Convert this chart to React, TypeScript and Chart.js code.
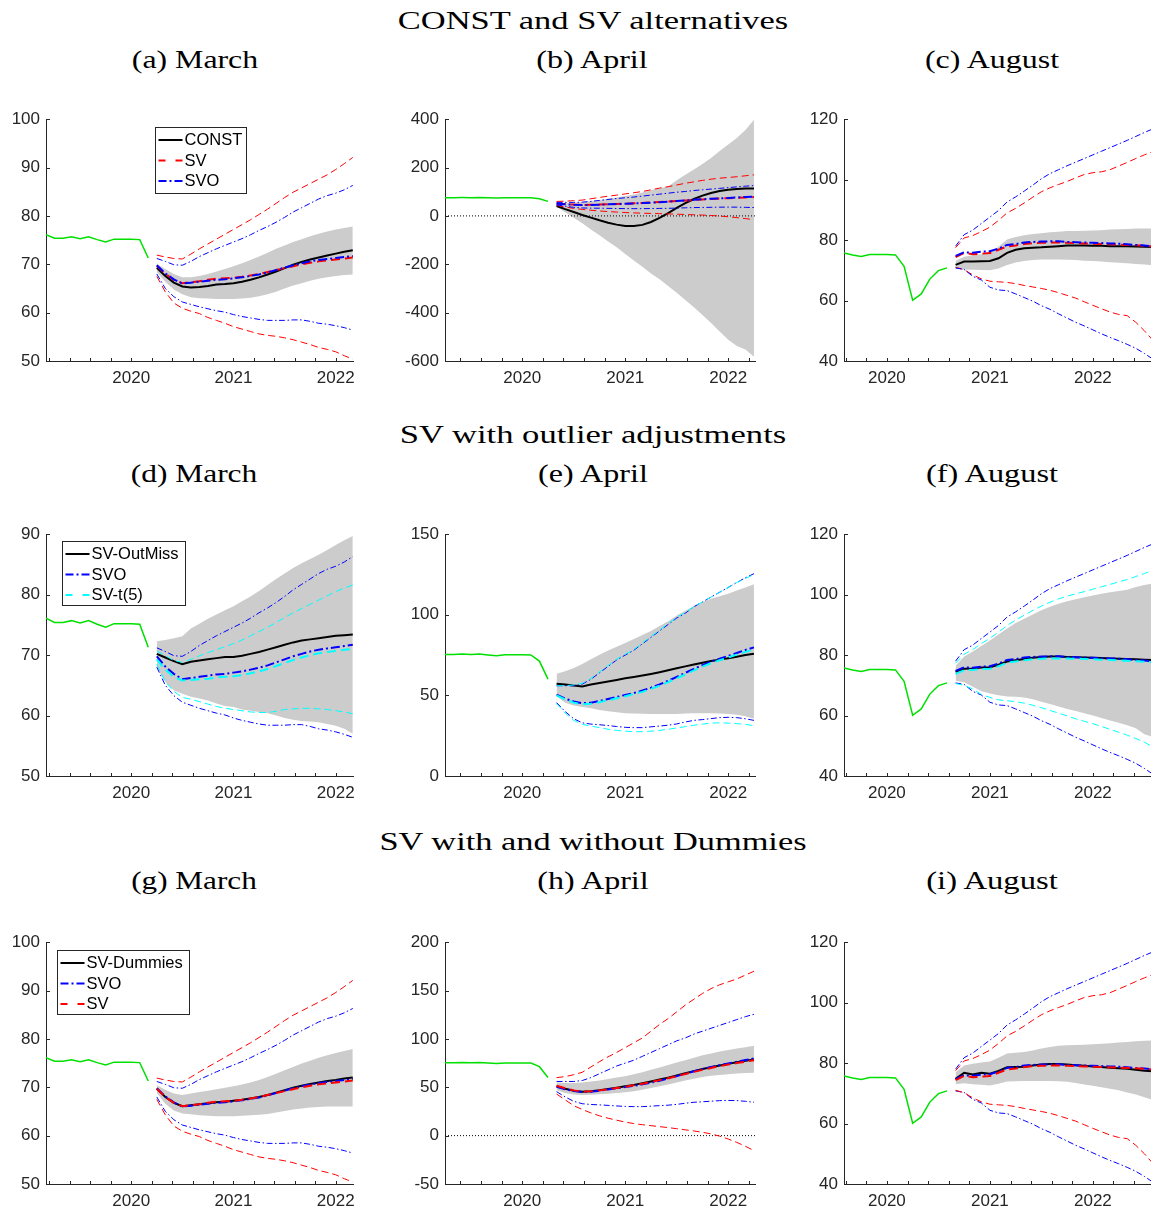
import React, { useEffect, useRef } from "react";
import { Chart, registerables } from "chart.js";

Chart.register(...registerables);

// ---------------- DATA ----------------
// Observed history, monthly from March 2019 to August 2020
const HIST_START_YEAR = 2019;
const HIST_START_MONTH = 3;
const HIST = [76.1, 75.4, 75.4, 75.7, 75.3, 75.7, 75.1, 74.6, 75.2, 75.2, 75.2, 75.1, 71.3, 60.1, 62.2, 67.1, 69.9, 70.8];
// forecast origins (index into HIST)
const ORIGIN_MAR = 12;
const ORIGIN_APR = 13;
const ORIGIN_AUG = 17;
const X_TICKS = [2020, 2021, 2022];

const SECTION_TITLES = ["CONST and SV alternatives", "SV with outlier adjustments", "SV with and without Dummies"];
const PANEL_TITLES = ["(a) March", "(b) April", "(c) August", "(d) March", "(e) April", "(f) August", "(g) March", "(h) April", "(i) August"];

// ---- CONST ----
const CONST_MAR_MED = [69.3, 67.6, 66.2, 65.4, 65.2, 65.3, 65.5, 65.8, 65.9, 66.1, 66.4, 66.8, 67.3, 67.9, 68.5, 69.2, 69.9, 70.5, 71.0, 71.4, 71.8, 72.2, 72.6, 72.9];
const CONST_MAR_LO = [68.4, 66.4, 64.8, 63.8, 63.2, 63.0, 62.9, 62.8, 62.8, 62.8, 62.9, 63.1, 63.4, 63.8, 64.3, 65.0, 65.6, 66.1, 66.6, 67.0, 67.3, 67.6, 67.8, 67.9];
const CONST_MAR_HI = [70.1, 69.0, 68.0, 67.3, 67.3, 67.6, 68.0, 68.5, 69.0, 69.6, 70.2, 70.9, 71.6, 72.4, 73.2, 73.9, 74.6, 75.2, 75.8, 76.3, 76.8, 77.2, 77.5, 77.8];
const CONST_APR_MED = [41, 28, 16, 4, -7, -18, -28, -36, -42, -42, -37, -25, -8, 12, 33, 53, 70, 84, 95, 103, 108, 111, 113, 113];
const CONST_APR_LO = [38, 15, -8, -30, -56, -80, -106, -130, -158, -184, -210, -238, -262, -290, -318, -348, -378, -410, -443, -478, -512, -538, -552, -582];
const CONST_APR_HI = [50, 52, 55, 58, 62, 66, 71, 76, 82, 89, 97, 106, 114, 122, 148, 170, 192, 215, 240, 268, 295, 322, 355, 398];
const CONST_AUG_MED = [71.8, 72.9, 72.9, 73.0, 73.1, 74.0, 75.8, 76.8, 77.3, 77.5, 77.6, 77.8, 78.0, 78.2, 78.2, 78.2, 78.1, 78.1, 78.0, 78.0, 78.0, 77.9, 77.8, 77.7];
const CONST_AUG_LO = [70.5, 70.3, 70.2, 70.1, 70.0, 70.6, 71.8, 72.6, 73.1, 73.4, 73.6, 73.6, 73.6, 73.5, 73.4, 73.2, 73.1, 72.9, 72.7, 72.5, 72.3, 72.1, 71.9, 71.7];
const CONST_AUG_HI = [73.2, 74.5, 75.0, 75.3, 75.8, 77.8, 80.2, 81.0, 81.6, 82.0, 82.3, 82.6, 82.8, 83.0, 83.0, 83.1, 83.2, 83.3, 83.5, 83.6, 83.7, 83.8, 83.8, 83.8];

// ---- SV ----
const SV_MAR_MED = [69.7, 68.0, 66.8, 66.1, 66.3, 66.5, 66.8, 67.0, 67.1, 67.2, 67.4, 67.7, 68.0, 68.4, 68.8, 69.2, 69.6, 70.0, 70.3, 70.6, 70.8, 71.0, 71.2, 71.4];
const SV_MAR_LO = [67.5, 64.3, 62.0, 60.9, 60.3, 59.8, 59.0, 58.4, 57.8, 57.1, 56.6, 56.1, 55.6, 55.3, 55.1, 54.8, 54.4, 53.9, 53.4, 52.8, 52.4, 51.9, 51.1, 50.4];
const SV_MAR_HI = [71.9, 71.5, 71.2, 71.1, 72.1, 73.2, 74.2, 75.2, 76.2, 77.2, 78.2, 79.2, 80.3, 81.4, 82.6, 83.8, 84.9, 85.8, 86.7, 87.6, 88.5, 89.6, 90.8, 92.1];
const SV_APR_MED = [51.5, 49.0, 46.8, 45.5, 45.8, 46.8, 48.0, 49.2, 50.6, 52.0, 53.6, 55.4, 57.4, 59.4, 61.5, 63.7, 65.9, 68.0, 70.0, 71.8, 73.5, 75.0, 76.5, 78.0];
const SV_APR_LO = [43, 37, 31, 27, 23.5, 20.5, 18, 16, 14, 12.5, 11.3, 10.3, 9.3, 8.3, 7.2, 6, 4.8, 3.5, 1.8, -0.5, -3.5, -7, -11, -15.5];
const SV_APR_HI = [60, 61, 63, 65.5, 71, 76.5, 81.5, 86, 91, 96, 101, 108, 115, 121, 128, 135, 141, 147, 152, 156, 159, 162, 166, 170];
const SV_AUG_MED = [74.4, 75.8, 75.3, 75.5, 75.7, 76.8, 77.9, 78.2, 78.7, 79.0, 79.1, 79.2, 79.2, 79.1, 79.0, 78.9, 78.8, 78.7, 78.6, 78.5, 78.4, 78.3, 78.1, 77.9];
const SV_AUG_LO = [71.0, 70.2, 68.5, 67.2, 66.4, 66.2, 66.0, 65.6, 65.0, 64.5, 64.0, 63.4, 62.6, 61.7, 60.8, 59.6, 58.4, 57.3, 56.2, 55.4, 55.0, 52.8, 50.0, 46.8];
const SV_AUG_HI = [77.5, 80.7, 81.5, 82.8, 84.3, 86.5, 89.0, 90.5, 92.3, 94.2, 96.0, 97.3, 98.4, 99.4, 100.6, 101.7, 102.3, 102.6, 103.3, 104.5, 105.7, 107.0, 108.2, 109.3];

// ---- SVO ----
const SVO_MAR_MED = [69.8, 68.1, 66.9, 66.0, 66.2, 66.4, 66.6, 66.8, 66.9, 67.1, 67.3, 67.6, 67.9, 68.3, 68.8, 69.3, 69.8, 70.2, 70.6, 70.9, 71.1, 71.3, 71.5, 71.7];
const SVO_MAR_LO = [68.0, 65.0, 63.3, 62.2, 61.7, 61.2, 60.8, 60.4, 60.1, 59.6, 59.2, 58.9, 58.6, 58.4, 58.4, 58.4, 58.5, 58.5, 58.2, 57.8, 57.6, 57.3, 56.9, 56.4];
const SVO_MAR_HI = [71.2, 70.6, 69.9, 69.8, 70.6, 71.6, 72.4, 73.2, 73.9, 74.6, 75.3, 76.1, 77.0, 77.8, 78.7, 79.7, 80.8, 81.7, 82.6, 83.5, 84.2, 84.7, 85.4, 86.3];
const SVO_APR_MED = [50.5, 48.0, 46.2, 45.2, 45.5, 46.5, 47.8, 49.0, 50.3, 51.5, 53.0, 54.8, 56.8, 59.0, 61.5, 64.0, 66.5, 68.8, 71.0, 72.8, 74.5, 76.3, 78.2, 79.8];
const SVO_APR_LO = [45.5, 40.0, 35.5, 33.0, 32.2, 31.8, 31.3, 30.7, 30.2, 30.0, 30.0, 30.5, 31.0, 31.5, 32.3, 33.5, 34.5, 35.0, 35.6, 36.2, 36.4, 36.2, 35.5, 34.5];
const SVO_APR_HI = [56, 56, 56, 57, 60, 64, 68, 72, 75, 78, 82, 86, 90, 94, 98, 101, 105, 108, 111, 114, 117, 120, 123, 125.5];
const SVO_AUG_MED = [74.8, 76.0, 75.8, 76.2, 76.3, 77.2, 78.4, 78.7, 79.2, 79.4, 79.5, 79.6, 79.6, 79.4, 79.3, 79.2, 79.1, 79.0, 78.9, 78.8, 78.6, 78.4, 78.2, 78.0];
const SVO_AUG_LO = [70.8, 70.3, 68.0, 66.8, 64.4, 63.5, 63.3, 62.2, 61.0, 59.8, 58.3, 57.1, 55.6, 54.2, 52.8, 51.6, 50.3, 49.0, 47.8, 46.7, 45.5, 44.2, 42.5, 40.6];
const SVO_AUG_HI = [78.0, 81.8, 83.3, 85.5, 87.6, 89.8, 92.6, 94.3, 96.2, 98.2, 100.3, 102.0, 103.3, 104.6, 105.8, 107.0, 108.2, 109.4, 110.6, 111.8, 113.0, 114.3, 115.6, 116.8];

// ---- SV-OutMiss ----
const OUTMISS_MAR_MED = [70.2, 69.6, 69.0, 68.5, 68.9, 69.1, 69.3, 69.5, 69.7, 69.7, 69.9, 70.2, 70.5, 70.9, 71.3, 71.7, 72.1, 72.4, 72.6, 72.8, 73.0, 73.2, 73.3, 73.4];
const OUTMISS_MAR_LO = [68.0, 65.6, 64.2, 63.6, 63.1, 62.8, 62.5, 62.0, 61.6, 61.4, 61.0, 60.8, 60.6, 60.4, 60.0, 59.6, 59.3, 59.1, 59.0, 58.9, 58.6, 58.3, 57.8, 57.0];
const OUTMISS_MAR_HI = [72.3, 72.5, 72.8, 73.1, 74.4, 75.2, 76.0, 76.7, 77.4, 78.1, 78.9, 79.7, 80.6, 81.6, 82.6, 83.5, 84.4, 85.2, 85.9, 86.6, 87.4, 88.2, 89.0, 89.7];
const OUTMISS_APR_MED = [57.3, 56.8, 56.1, 55.6, 56.8, 57.7, 58.6, 59.6, 60.6, 61.4, 62.3, 63.3, 64.4, 65.6, 66.8, 68.0, 69.2, 70.3, 71.3, 72.2, 73.1, 74.0, 75.0, 75.9];
const OUTMISS_APR_LO = [49.5, 45.5, 43.8, 42.8, 42.0, 41.0, 40.2, 39.5, 39.0, 38.8, 38.6, 38.5, 38.4, 38.4, 38.5, 38.7, 38.9, 39.0, 39.0, 38.8, 38.5, 38.0, 37.0, 35.5];
const OUTMISS_APR_HI = [63.5, 65.0, 67.0, 69.5, 72.5, 75.2, 77.8, 80.2, 82.5, 85.0, 87.5, 90.0, 93.0, 96.0, 99.5, 102.5, 105.5, 108.0, 110.0, 111.5, 113.0, 115.0, 117.0, 119.0];
const OUTMISS_AUG_MED = [74.5, 75.5, 75.6, 75.9, 76.0, 76.8, 77.9, 78.3, 78.7, 79.1, 79.4, 79.5, 79.5, 79.4, 79.3, 79.2, 79.1, 79.0, 78.9, 78.8, 78.7, 78.6, 78.5, 78.4];
const OUTMISS_AUG_LO = [71.5, 71.0, 69.5, 68.0, 67.3, 66.7, 66.3, 66.2, 66.0, 65.4, 64.6, 63.8, 63.0, 62.2, 61.5, 60.8, 60.0, 59.2, 58.4, 57.6, 56.8, 55.8, 53.8, 52.9];
const OUTMISS_AUG_HI = [76.5, 79.5, 81.2, 83.0, 84.8, 86.8, 88.8, 90.6, 92.0, 93.4, 94.8, 96.0, 97.0, 97.8, 98.5, 99.1, 99.7, 100.3, 100.8, 101.2, 101.6, 102.5, 103.2, 103.7];

// ---- SV-t(5) ----
const T5_MAR_MED = [69.3, 67.6, 66.4, 65.8, 65.9, 66.0, 66.1, 66.3, 66.4, 66.5, 66.7, 67.0, 67.3, 67.7, 68.2, 68.7, 69.2, 69.6, 70.0, 70.3, 70.5, 70.7, 70.9, 71.0];
const T5_MAR_LO = [68.5, 65.6, 64.0, 63.0, 62.7, 62.3, 61.9, 61.5, 61.2, 61.0, 60.8, 60.6, 60.5, 60.5, 60.7, 61.0, 61.1, 61.2, 61.2, 61.1, 61.0, 60.8, 60.6, 60.3];
const T5_MAR_HI = [70.7, 69.9, 69.1, 68.8, 69.3, 69.9, 70.4, 70.9, 71.4, 71.9, 72.5, 73.2, 73.9, 74.6, 75.4, 76.2, 77.0, 77.7, 78.4, 79.1, 79.8, 80.5, 81.1, 81.6];
const T5_APR_MED = [50.0, 47.5, 45.5, 44.5, 44.8, 45.8, 47.0, 48.2, 49.5, 50.8, 52.2, 54.0, 56.0, 58.2, 60.6, 63.0, 65.5, 67.8, 70.0, 71.8, 73.5, 75.3, 77.0, 78.5];
const T5_APR_LO = [45.0, 39.0, 34.5, 32.0, 31.0, 30.0, 29.0, 28.3, 27.8, 27.5, 27.5, 27.8, 28.3, 29.0, 29.8, 30.6, 31.5, 32.2, 32.8, 33.0, 32.8, 32.5, 32.0, 31.2];
const T5_APR_HI = [56, 56, 56.5, 57.5, 60.5, 64.5, 68.5, 72.5, 75.5, 78.5, 82.5, 86.5, 90.5, 94.5, 98.5, 101.5, 105, 108, 111, 114, 117, 120, 122.5, 125];
const T5_AUG_MED = [73.8, 75.0, 75.1, 75.4, 75.5, 76.3, 77.5, 77.9, 78.3, 78.6, 78.8, 78.9, 78.9, 78.9, 78.8, 78.7, 78.6, 78.5, 78.4, 78.3, 78.1, 78.0, 77.8, 77.6];
const T5_AUG_LO = [70.6, 70.0, 68.8, 67.0, 66.0, 65.2, 64.9, 64.6, 64.1, 63.4, 62.6, 61.7, 60.8, 59.9, 58.9, 58.1, 57.3, 56.4, 55.4, 54.5, 53.5, 52.4, 51.2, 49.6];
const T5_AUG_HI = [77.3, 80.3, 81.8, 83.8, 85.6, 87.6, 89.8, 91.6, 93.2, 94.8, 96.2, 97.5, 98.6, 99.5, 100.3, 101.0, 101.8, 102.6, 103.4, 104.2, 105.0, 106.0, 107.0, 108.0];

// ---- SV-Dummies ----
const DUM_MAR_MED = [69.7, 68.0, 66.8, 66.1, 66.3, 66.5, 66.7, 66.9, 67.0, 67.2, 67.4, 67.7, 68.0, 68.4, 68.9, 69.4, 69.9, 70.3, 70.7, 71.0, 71.3, 71.5, 71.8, 72.0];
const DUM_MAR_LO = [68.8, 66.6, 65.2, 64.6, 64.4, 64.2, 64.1, 64.0, 64.0, 64.0, 64.1, 64.2, 64.3, 64.5, 64.8, 65.1, 65.4, 65.6, 65.8, 65.9, 66.0, 66.0, 66.0, 66.0];
const DUM_MAR_HI = [70.4, 69.5, 68.7, 68.4, 68.7, 69.0, 69.3, 69.6, 69.9, 70.2, 70.6, 71.0, 71.5, 72.1, 72.8, 73.5, 74.2, 74.9, 75.5, 76.1, 76.6, 77.1, 77.5, 77.9];
const DUM_APR_MED = [51.0, 48.5, 46.5, 45.5, 46.0, 47.0, 48.2, 49.5, 51.0, 52.5, 54.2, 56.0, 58.0, 60.0, 62.2, 64.5, 66.7, 68.8, 70.7, 72.5, 74.2, 75.8, 77.4, 78.8];
const DUM_APR_LO = [47.0, 44.0, 42.5, 42.0, 42.3, 42.7, 43.3, 44.0, 44.8, 46.0, 47.5, 49.2, 51.0, 53.0, 55.0, 57.0, 58.8, 60.5, 61.8, 62.8, 63.6, 64.2, 64.7, 65.1];
const DUM_APR_HI = [55.0, 54.5, 54.5, 55.0, 56.0, 57.0, 58.5, 60.0, 61.5, 63.5, 65.5, 68.0, 70.5, 73.0, 75.5, 78.0, 80.5, 83.0, 85.0, 87.0, 88.5, 90.0, 91.5, 93.0];
const DUM_AUG_MED = [74.8, 76.8, 76.2, 76.8, 76.5, 77.4, 78.6, 78.7, 78.8, 79.2, 79.5, 79.7, 79.7, 79.5, 79.3, 79.1, 78.9, 78.7, 78.5, 78.3, 78.1, 77.8, 77.5, 77.3];
const DUM_AUG_LO = [73.0, 73.3, 73.0, 72.8, 72.6, 73.2, 73.9, 74.0, 74.1, 74.1, 74.1, 74.1, 74.0, 73.8, 73.4, 72.9, 72.5, 72.0, 71.5, 71.0, 70.3, 69.6, 68.7, 67.8];
const DUM_AUG_HI = [77.0, 79.2, 79.8, 80.2, 80.5, 81.8, 83.2, 83.4, 83.7, 84.2, 84.8, 85.3, 85.7, 85.9, 86.0, 86.1, 86.2, 86.4, 86.6, 86.8, 87.0, 87.2, 87.4, 87.5];

// ---------------- STRUCTURE ----------------
type Band = { med: number[]; lo: number[]; hi: number[] };
const mk = (med: number[], lo: number[], hi: number[]): Band => ({ med, lo, hi });

const CONST_MAR = mk(CONST_MAR_MED, CONST_MAR_LO, CONST_MAR_HI);
const CONST_APR = mk(CONST_APR_MED, CONST_APR_LO, CONST_APR_HI);
const CONST_AUG = mk(CONST_AUG_MED, CONST_AUG_LO, CONST_AUG_HI);
const SV_MAR = mk(SV_MAR_MED, SV_MAR_LO, SV_MAR_HI);
const SV_APR = mk(SV_APR_MED, SV_APR_LO, SV_APR_HI);
const SV_AUG = mk(SV_AUG_MED, SV_AUG_LO, SV_AUG_HI);
const SVO_MAR = mk(SVO_MAR_MED, SVO_MAR_LO, SVO_MAR_HI);
const SVO_APR = mk(SVO_APR_MED, SVO_APR_LO, SVO_APR_HI);
const SVO_AUG = mk(SVO_AUG_MED, SVO_AUG_LO, SVO_AUG_HI);
const OUTMISS_MAR = mk(OUTMISS_MAR_MED, OUTMISS_MAR_LO, OUTMISS_MAR_HI);
const OUTMISS_APR = mk(OUTMISS_APR_MED, OUTMISS_APR_LO, OUTMISS_APR_HI);
const OUTMISS_AUG = mk(OUTMISS_AUG_MED, OUTMISS_AUG_LO, OUTMISS_AUG_HI);
const T5_MAR = mk(T5_MAR_MED, T5_MAR_LO, T5_MAR_HI);
const T5_APR = mk(T5_APR_MED, T5_APR_LO, T5_APR_HI);
const T5_AUG = mk(T5_AUG_MED, T5_AUG_LO, T5_AUG_HI);
const DUM_MAR = mk(DUM_MAR_MED, DUM_MAR_LO, DUM_MAR_HI);
const DUM_APR = mk(DUM_APR_MED, DUM_APR_LO, DUM_APR_HI);
const DUM_AUG = mk(DUM_AUG_MED, DUM_AUG_LO, DUM_AUG_HI);

type StyleKey = "black" | "red" | "blue" | "cyan";
const LINE_STYLES: Record<StyleKey, { color: string; medDash: number[]; bandDash: number[]; legendDash: number[] }> = {
  black: { color: "#000000", medDash: [], bandDash: [], legendDash: [] },
  red: { color: "#ff0000", medDash: [9, 5], bandDash: [7, 4], legendDash: [7, 10] },
  blue: { color: "#0000ff", medDash: [9, 3, 2, 3], bandDash: [6, 2.5, 1.5, 2.5], legendDash: [8, 3, 2, 3] },
  cyan: { color: "#00ffff", medDash: [9, 5], bandDash: [7, 4], legendDash: [7, 10] },
};

type LegendDef = { labels: string[]; styles: StyleKey[]; dx: number; dy: number; w: number; h: number };
type PanelDef = {
  row: number; col: number; origin: number;
  yMin: number; yMax: number; yStep: number; zeroLine: boolean;
  main: Band; others: { band: Band; style: StyleKey }[];
  legend?: LegendDef;
};

const PANELS: PanelDef[] = [
  { row: 0, col: 0, origin: ORIGIN_MAR, yMin: 50, yMax: 100, yStep: 10, zeroLine: false, main: CONST_MAR,
    others: [{ band: SV_MAR, style: "red" }, { band: SVO_MAR, style: "blue" }],
    legend: { labels: ["CONST", "SV", "SVO"], styles: ["black", "red", "blue"], dx: 109, dy: 8, w: 91, h: 66 } },
  { row: 0, col: 1, origin: ORIGIN_APR, yMin: -600, yMax: 400, yStep: 200, zeroLine: true, main: CONST_APR,
    others: [{ band: SV_APR, style: "red" }, { band: SVO_APR, style: "blue" }] },
  { row: 0, col: 2, origin: ORIGIN_AUG, yMin: 40, yMax: 120, yStep: 20, zeroLine: false, main: CONST_AUG,
    others: [{ band: SV_AUG, style: "red" }, { band: SVO_AUG, style: "blue" }] },
  { row: 1, col: 0, origin: ORIGIN_MAR, yMin: 50, yMax: 90, yStep: 10, zeroLine: false, main: OUTMISS_MAR,
    others: [{ band: SVO_MAR, style: "blue" }, { band: T5_MAR, style: "cyan" }],
    legend: { labels: ["SV-OutMiss", "SVO", "SV-t(5)"], styles: ["black", "blue", "cyan"], dx: 16, dy: 7, w: 123, h: 64 } },
  { row: 1, col: 1, origin: ORIGIN_APR, yMin: 0, yMax: 150, yStep: 50, zeroLine: false, main: OUTMISS_APR,
    others: [{ band: SVO_APR, style: "blue" }, { band: T5_APR, style: "cyan" }] },
  { row: 1, col: 2, origin: ORIGIN_AUG, yMin: 40, yMax: 120, yStep: 20, zeroLine: false, main: OUTMISS_AUG,
    others: [{ band: SVO_AUG, style: "blue" }, { band: T5_AUG, style: "cyan" }] },
  { row: 2, col: 0, origin: ORIGIN_MAR, yMin: 50, yMax: 100, yStep: 10, zeroLine: false, main: DUM_MAR,
    others: [{ band: SVO_MAR, style: "blue" }, { band: SV_MAR, style: "red" }],
    legend: { labels: ["SV-Dummies", "SVO", "SV"], styles: ["black", "blue", "red"], dx: 11, dy: 8, w: 132, h: 64 } },
  { row: 2, col: 1, origin: ORIGIN_APR, yMin: -50, yMax: 200, yStep: 50, zeroLine: true, main: DUM_APR,
    others: [{ band: SVO_APR, style: "blue" }, { band: SV_APR, style: "red" }] },
  { row: 2, col: 2, origin: ORIGIN_AUG, yMin: 40, yMax: 120, yStep: 20, zeroLine: false, main: DUM_AUG,
    others: [{ band: SVO_AUG, style: "blue" }, { band: SV_AUG, style: "red" }] },
];

// ---------------- LAYOUT ----------------
const COLS = [46, 445, 844];
const ROWS = [117, 532, 940];
const PLOT_W = 310;
const PLOT_H = 244;
const YW = 46, PT = 14, PR = 6, XH = 34;
const AXIS_COLOR = "#262626";
const SPAN_YEARS = 3.01;

const SECTION_POS = [
  { cx: 593, base: 30, w: 390 },
  { cx: 592.5, base: 444, w: 387 },
  { cx: 592.5, base: 851, w: 427 },
];
const SUB_POS = [
  { cx: 194.5, w: 126 }, { cx: 592, w: 111 }, { cx: 992, w: 134 },
  { cx: 193.5, w: 127 }, { cx: 593, w: 110 }, { cx: 992, w: 132 },
  { cx: 194, w: 126 }, { cx: 592.5, w: 111 }, { cx: 992, w: 132 },
];
const SUB_BASE = [69, 483, 890];

const monthX = (k: number) => HIST_START_YEAR + (HIST_START_MONTH - 1 + k) / 12;

function buildDatasets(p: PanelDef, xMin: number, xMax: number) {
  const fx = p.main.med.map((_, i) => monthX(p.origin + 1 + i));
  const pts = (ys: number[]) => ys.map((y, i) => ({ x: fx[i], y }));
  const hx: { x: number; y: number }[] = [];
  for (let k = p.origin - 12; k <= p.origin; k++) hx.push({ x: monthX(k), y: HIST[k] });
  const base = { pointRadius: 0, pointHoverRadius: 0, tension: 0, fill: false as any };
  const bottomToTop: any[] = [];
  bottomToTop.push({ ...base, data: pts(p.main.hi), borderColor: "rgba(0,0,0,0)", borderWidth: 0, backgroundColor: "#cccccc", fill: "-1" });
  bottomToTop.push({ ...base, data: pts(p.main.lo), borderColor: "rgba(0,0,0,0)", borderWidth: 0 });
  if (p.zeroLine) {
    bottomToTop.push({ ...base, data: [{ x: xMin, y: 0 }, { x: xMax, y: 0 }], borderColor: "#000000", borderWidth: 1, borderDash: [1, 2] });
  }
  bottomToTop.push({ ...base, data: hx, borderColor: "#00e000", borderWidth: 1.5 });
  bottomToTop.push({ ...base, data: pts(p.main.med), borderColor: "#000000", borderWidth: 2 });
  p.others.forEach((o) => {
    const st = LINE_STYLES[o.style];
    bottomToTop.push({ ...base, data: pts(o.band.hi), borderColor: st.color, borderWidth: 1, borderDash: st.bandDash });
    bottomToTop.push({ ...base, data: pts(o.band.lo), borderColor: st.color, borderWidth: 1, borderDash: st.bandDash });
    bottomToTop.push({ ...base, data: pts(o.band.med), borderColor: st.color, borderWidth: 2, borderDash: st.medDash });
  });
  // Chart.js draws dataset 0 on top, so reverse
  return bottomToTop.reverse();
}

function makePlugin(p: PanelDef) {
  return {
    id: "panelDecor",
    afterDraw(chart: any) {
      const { ctx, chartArea: ca, scales } = chart;
      const xs = scales.x, ys = scales.y;
      ctx.save();
      ctx.strokeStyle = AXIS_COLOR;
      ctx.lineWidth = 1;
      ctx.setLineDash([]);
      ctx.beginPath();
      ys.ticks.forEach((t: any) => {
        const py = Math.round(ys.getPixelForValue(t.value)) + 0.5;
        ctx.moveTo(ca.left, py);
        ctx.lineTo(ca.left + 4, py);
      });
      const k0 = Math.ceil(xs.min * 5), k1 = Math.floor(xs.max * 5);
      for (let k = k0; k <= k1; k++) {
        const px = Math.round(xs.getPixelForValue(k / 5)) + 0.5;
        ctx.moveTo(px, ca.bottom);
        ctx.lineTo(px, ca.bottom - 3);
      }
      ctx.stroke();
      if (p.legend) {
        const L = p.legend;
        const x0 = Math.round(ca.left + L.dx) + 0.5, y0 = Math.round(ca.top + L.dy) + 0.5;
        ctx.fillStyle = "#ffffff";
        ctx.fillRect(x0, y0, L.w, L.h);
        ctx.strokeStyle = AXIS_COLOR;
        ctx.strokeRect(x0, y0, L.w, L.h);
        L.labels.forEach((lab, k) => {
          const st = LINE_STYLES[L.styles[k]];
          const yy = y0 + 12.5 + 20.5 * k;
          ctx.beginPath();
          ctx.setLineDash(st.legendDash);
          ctx.strokeStyle = st.color;
          ctx.lineWidth = 2;
          ctx.moveTo(x0 + 3, yy);
          ctx.lineTo(x0 + 27, yy);
          ctx.stroke();
          ctx.setLineDash([]);
          ctx.fillStyle = "#000000";
          ctx.font = '16.5px "Liberation Sans"';
          ctx.textBaseline = "middle";
          ctx.textAlign = "left";
          ctx.fillText(lab, x0 + 29, yy + 0.5);
        });
      }
      ctx.restore();
    },
  };
}

function Panel({ p }: { p: PanelDef }) {
  const ref = useRef<HTMLCanvasElement>(null);
  const left = COLS[p.col] - YW;
  const top = ROWS[p.row] - PT;
  const w = YW + PLOT_W + PR;
  const h = PT + PLOT_H + XH;
  useEffect(() => {
    const xMin = monthX(p.origin - 12);
    const xMax = xMin + SPAN_YEARS;
    const tickFont = { family: "Liberation Sans", size: 17 };
    const chart = new Chart(ref.current as HTMLCanvasElement, {
      type: "line",
      data: { datasets: buildDatasets(p, xMin, xMax) },
      options: {
        animation: false,
        responsive: false,
        maintainAspectRatio: false,
        devicePixelRatio: 1,
        events: [],
        layout: { padding: { left: 0, top: PT, right: PR, bottom: 0 } },
        plugins: { legend: { display: false }, tooltip: { enabled: false }, title: { display: false } },
        scales: {
          x: {
            type: "linear",
            min: xMin,
            max: xMax,
            afterBuildTicks: (axis: any) => { axis.ticks = X_TICKS.map((v) => ({ value: v })); },
            afterFit: (s: any) => { s.height = XH; },
            ticks: { autoSkip: false, maxRotation: 0, padding: 7, color: AXIS_COLOR, font: tickFont, callback: (v: any) => String(v) },
            grid: { display: false, drawTicks: false },
            border: { display: true, color: AXIS_COLOR, width: 1 },
          },
          y: {
            type: "linear",
            min: p.yMin,
            max: p.yMax,
            afterFit: (s: any) => { s.width = YW; },
            ticks: { stepSize: p.yStep, padding: 6, color: AXIS_COLOR, font: tickFont, callback: (v: any) => String(v) },
            grid: { display: false, drawTicks: false },
            border: { display: true, color: AXIS_COLOR, width: 1 },
          },
        },
      } as any,
      plugins: [makePlugin(p)],
    });
    return () => chart.destroy();
  }, []);
  return (
    <div style={{ position: "absolute", left, top, width: w, height: h }}>
      <canvas ref={ref} width={w} height={h} style={{ width: w, height: h, display: "block" }} />
    </div>
  );
}

const TITLE_FONT_SIZE = 26;
const TITLE_BASE_OFFSET = 21.8;

export default function App() {
  const titleRefs = useRef<(HTMLDivElement | null)[]>([]);
  const targets: number[] = [];
  SECTION_POS.forEach((s) => targets.push(s.w));
  SUB_POS.forEach((s) => targets.push(s.w));

  useEffect(() => {
    const fit = () => {
      titleRefs.current.forEach((el, i) => {
        if (!el) return;
        const wNat = el.offsetWidth;
        if (wNat > 0) el.style.transform = `translateX(-50%) scaleX(${targets[i] / wNat})`;
      });
    };
    fit();
    if ((document as any).fonts && (document as any).fonts.ready) (document as any).fonts.ready.then(fit);
  }, []);

  const titleStyle = (cx: number, base: number): React.CSSProperties => ({
    position: "absolute",
    left: cx,
    top: base - TITLE_BASE_OFFSET,
    fontFamily: '"Liberation Serif", serif',
    fontSize: TITLE_FONT_SIZE,
    lineHeight: 1,
    whiteSpace: "nowrap",
    color: "#000",
    transform: "translateX(-50%)",
    transformOrigin: "50% 50%",
  });

  return (
    <div style={{ position: "absolute", left: 0, top: 0, width: 1151, height: 1210, overflow: "hidden", background: "#ffffff" }}>
      {SECTION_TITLES.map((t, i) => (
        <div key={"s" + i} ref={(el) => { titleRefs.current[i] = el; }} style={titleStyle(SECTION_POS[i].cx, SECTION_POS[i].base)}>{t}</div>
      ))}
      {PANEL_TITLES.map((t, i) => (
        <div key={"p" + i} ref={(el) => { titleRefs.current[3 + i] = el; }} style={titleStyle(SUB_POS[i].cx, SUB_BASE[Math.floor(i / 3)])}>{t}</div>
      ))}
      {PANELS.map((p, i) => <Panel key={i} p={p} />)}
    </div>
  );
}
